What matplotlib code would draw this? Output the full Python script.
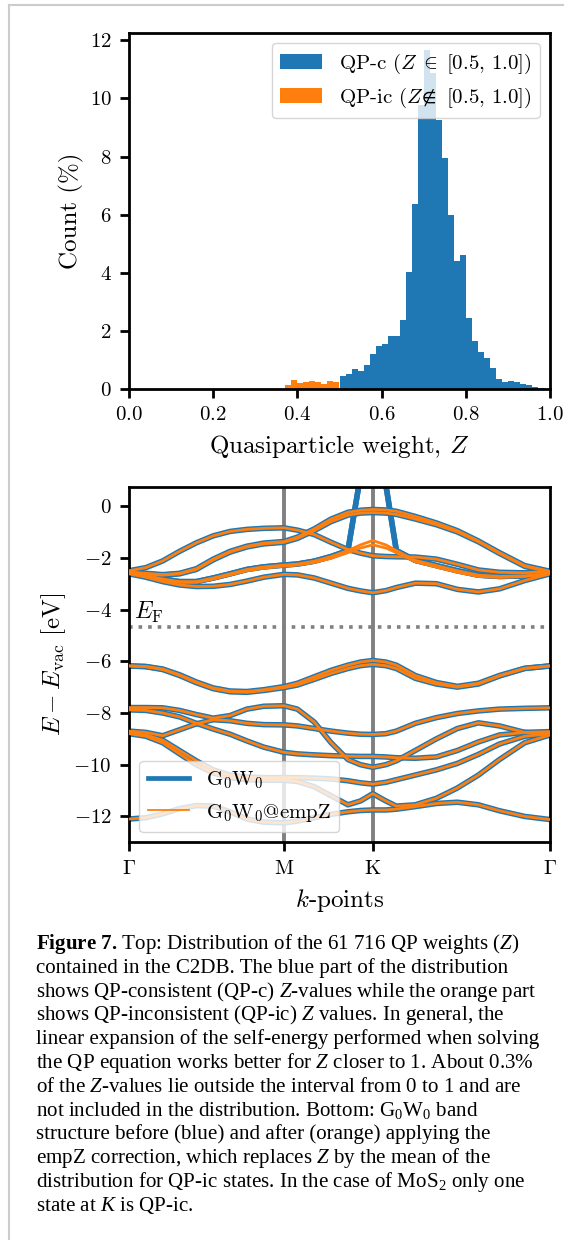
import numpy as np
import matplotlib
matplotlib.use("Agg")
import matplotlib.pyplot as plt
from matplotlib.lines import Line2D

plt.rcParams['font.family'] = ['cmr10', 'DejaVu Serif']
plt.rcParams['mathtext.fontset'] = 'cm'
plt.rcParams['axes.formatter.use_mathtext'] = True
# fonts for the caption (custom math font family)
plt.rcParams['mathtext.rm'] = 'Liberation Serif'
plt.rcParams['mathtext.it'] = 'Liberation Serif:italic'
plt.rcParams['mathtext.bf'] = 'Liberation Serif:bold'
plt.rcParams['axes.linewidth'] = 2.0

# ---------------- histogram data (percent per bin, bins of width 1/70) ----------------
n_bins = 70
first_ic_bin = 26
count_ic = [0.13, 0.31, 0.22, 0.25, 0.27, 0.24, 0.16, 0.27, 0.24]
count_c = [0.45, 0.51, 0.69, 0.62, 0.82, 1.22, 1.47, 1.54, 1.82, 1.83,
           2.37, 4.01, 6.38, 9.77, 11.68, 10.88, 9.25, 7.96, 5.98, 4.42,
           4.6, 2.43, 1.65, 1.27, 1.07, 0.73, 0.34, 0.25, 0.27, 0.24,
           0.17, 0.13, 0.08, 0.03]

# ---------------- band structure data ----------------
kx = [0.0, 0.04, 0.08, 0.12, 0.16, 0.20, 0.24, 0.28, 0.32, 0.368, 0.40, 0.44, 0.48,
      0.52, 0.55, 0.579, 0.61, 0.635, 0.68, 0.73, 0.78, 0.83, 0.88, 0.94, 1.0]
k_ticks = [0.0, 0.368, 0.579, 1.0]
k_labels = [r'$\Gamma$', 'M', 'K', r'$\Gamma$']
e_fermi = -4.66

cb_low = [-2.62, -2.75, -2.92, -3.05, -3.11, -3.1, -3.03, -2.9, -2.75, -2.64, -2.66, -2.78, -2.98,
          -3.18, -3.28, -3.35, -3.27, -3.15, -2.98, -3.0, -3.22, -3.32, -3.2, -2.88, -2.62]
cb_arc = [-2.5, -2.38, -2.12, -1.75, -1.42, -1.15, -0.98, -0.9, -0.86, -0.84, -0.93, -1.1, -1.4,
          -1.68, -1.82, -1.92, -1.95, -1.96, -1.97, -2.05, -2.25, -2.47, -2.56, -2.58, -2.52]
cb_top1 = [-2.55, -2.6, -2.65, -2.6, -2.42, -2.05, -1.75, -1.55, -1.43, -1.37, -1.2, -0.88, -0.5,
           -0.24, -0.16, -0.13, -0.15, -0.2, -0.4, -0.65, -0.95, -1.35, -1.8, -2.3, -2.52]
cb_top2 = [-2.57, -2.62, -2.67, -2.62, -2.45, -2.08, -1.78, -1.58, -1.46, -1.4, -1.25, -0.95, -0.6,
           -0.35, -0.27, -0.25, -0.27, -0.32, -0.5, -0.72, -1.0, -1.38, -1.83, -2.33, -2.55]
cb_k1 = [-2.58, -2.68, -2.82, -2.92, -2.92, -2.78, -2.62, -2.45, -2.35, -2.28, -2.24, -2.13, -1.95,
         -1.72, -1.5, -1.33, -1.5, -1.72, -2.1, -2.3, -2.5, -2.67, -2.72, -2.7, -2.6]
cb_k2 = [-2.6, -2.7, -2.85, -2.95, -2.95, -2.82, -2.66, -2.5, -2.4, -2.32, -2.28, -2.18, -2.02,
         -1.8, -1.62, -1.5, -1.62, -1.8, -2.15, -2.36, -2.56, -2.72, -2.76, -2.72, -2.62]
# QP-ic state at K before the empZ correction
cb_k_g0w0 = [-2.58, -2.68, -2.82, -2.92, -2.92, -2.78, -2.62, -2.45, -2.35, -2.28, -2.24, -2.13, -1.95,
             -1.72, 1.19, 4.0, 0.83, -1.72, -2.1, -2.3, -2.5, -2.67, -2.72, -2.7, -2.6]

vb1a = [-6.18, -6.2, -6.3, -6.52, -6.8, -7.03, -7.15, -7.17, -7.1, -6.98, -6.85, -6.6, -6.35,
        -6.15, -6.03, -5.97, -6.03, -6.15, -6.55, -6.82, -6.97, -6.85, -6.55, -6.27, -6.18]
vb1b = [-6.18, -6.21, -6.32, -6.55, -6.83, -7.06, -7.18, -7.2, -7.13, -7.02, -6.92, -6.7, -6.47,
        -6.28, -6.17, -6.12, -6.17, -6.28, -6.66, -6.88, -7.0, -6.88, -6.57, -6.28, -6.18]
vb2 = [-7.79, -7.79, -7.8, -7.9, -8.06, -8.2, -8.1, -7.85, -7.74, -7.72, -7.85, -8.35, -9.15,
       -9.8, -10.0, -10.1, -10.0, -9.85, -9.45, -9.0, -8.6, -8.38, -8.5, -8.75, -8.85]
vb3 = [-8.7, -8.75, -8.88, -8.65, -8.42, -8.26, -8.3, -8.4, -8.45, -8.46, -8.5, -8.6, -8.7,
       -8.78, -8.82, -8.83, -8.8, -8.7, -8.4, -8.18, -8.02, -7.92, -7.85, -7.82, -7.8]
vb4 = [-7.88, -7.9, -8.0, -8.15, -8.4, -8.62, -8.82, -9.08, -9.32, -9.52, -9.58, -9.62, -9.65,
       -9.67, -9.68, -9.68, -9.7, -9.73, -9.75, -9.7, -9.45, -9.12, -8.85, -8.75, -8.72]
vb5a = [-8.78, -8.85, -9.05, -9.45, -9.85, -10.2, -10.4, -10.48, -10.5, -10.5, -10.5, -10.52, -10.55,
        -10.62, -10.7, -10.75, -10.68, -10.58, -10.4, -10.2, -9.95, -9.6, -9.2, -8.9, -8.8]
vb5b = [-8.8, -8.9, -9.15, -9.58, -10.0, -10.32, -10.5, -10.58, -10.6, -10.6, -10.65, -10.85, -11.2,
        -11.55, -11.4, -11.12, -11.4, -11.6, -11.55, -11.3, -10.9, -10.4, -9.8, -9.15, -8.85]
vb6 = [-12.1, -12.05, -11.9, -11.7, -11.58, -11.6, -11.82, -12.1, -12.22, -12.25, -12.18, -12.05, -11.92,
       -11.82, -11.77, -11.75, -11.75, -11.72, -11.62, -11.5, -11.45, -11.55, -11.78, -12.0, -12.12]

bands_empz = [cb_low, cb_arc, cb_top1, cb_top2, cb_k1, cb_k2,
              vb1a, vb1b, vb2, vb3, vb4, vb5a, vb5b, vb6]
bands_g0w0 = [cb_low, cb_arc, cb_top1, cb_top2, cb_k_g0w0, cb_k_g0w0,
              vb1a, vb1b, vb2, vb3, vb4, vb5a, vb5b, vb6]

caption = [
    r"$\mathbf{Figure\ 7.}\,$Top: Distribution of the 61 716 QP weights ($Z$)",
    "contained in the C2DB. The blue part of the distribution",
    r"shows QP-consistent (QP-c) $Z$-values while the orange part",
    r"shows QP-inconsistent (QP-ic) $Z$ values. In general, the",
    "linear expansion of the self-energy performed when solving",
    r"the QP equation works better for $Z$ closer to 1. About 0.3%",
    r"of the $Z$-values lie outside the interval from 0 to 1 and are",
    r"not included in the distribution. Bottom: G$_0$W$_0$ band",
    "structure before (blue) and after (orange) applying the",
    r"empZ correction, which replaces $Z$ by the mean of the",
    r"distribution for QP-ic states. In the case of MoS$_2$ only one",
    r"state at $K$ is QP-ic.",
]

W, H = 564, 1240
fig = plt.figure(figsize=(W / 100, H / 100), dpi=100)

# ---------------- top: histogram ----------------
ax1 = fig.add_axes([129 / W, 1 - 389 / H, 421 / W, 356.3 / H])
edges = np.linspace(0, 1, n_bins + 1)
e_ic = edges[first_ic_bin:first_ic_bin + len(count_ic) + 1]
e_c = edges[first_ic_bin + len(count_ic):first_ic_bin + len(count_ic) + len(count_c) + 1]
ax1.hist(e_c[:-1], bins=e_c, weights=count_c, color='C0',
         label=r'QP-c ($Z\;\in\;$[0.5, 1.0])')
ax1.hist(e_ic[:-1], bins=e_ic, weights=count_ic, color='C1',
         label=r'QP-ic ($Z\!\notin$ [0.5, 1.0])')
ax1.set_xlim(0, 1)
ax1.set_xticks([0, 0.2, 0.4, 0.6, 0.8, 1.0])
ax1.set_yticks([0, 2, 4, 6, 8, 10, 12])
ax1.set_xlabel(r'Quasiparticle weight, $Z$', fontsize=18, labelpad=6)
ax1.set_ylabel('Count (%)', fontsize=18)
ax1.legend(loc='upper right', fontsize=15)

# ---------------- bottom: band structure ----------------
ax2 = fig.add_axes([129 / W, 1 - 842.3 / H, 421 / W, 355.6 / H])
for kv in k_ticks[1:-1]:
    ax2.axvline(kv, color='gray', lw=2.8, zorder=1)
ax2.axhline(e_fermi, color='gray', ls=':', lw=2.6, zorder=1)
ax2.text(0.012, e_fermi + 0.05, r'$E_\mathrm{F}$', fontsize=17, va='bottom')
for e in bands_g0w0:
    ax2.plot(kx, e, color='C0', lw=4.0, solid_joinstyle='round', zorder=2)
for e in bands_empz:
    ax2.plot(kx, e, color='C1', lw=2.0, solid_joinstyle='round', zorder=3)
ax2.set_xlim(0, 1)
ax2.set_ylim(-13, 0.75)
ax2.set_xticks(k_ticks)
ax2.set_xticklabels(k_labels)
ax2.set_yticks([0, -2, -4, -6, -8, -10, -12])
ax2.set_xlabel(r'$k$-points', fontsize=18, labelpad=7)
ax2.set_ylabel(r'$E - E_\mathrm{vac}$ [eV]', fontsize=18)
handles = [Line2D([], [], color='C0', lw=3.4), Line2D([], [], color='C1', lw=1.3)]
ax2.legend(handles, [r'G$_0$W$_0$', r'G$_0$W$_0$@empZ'], loc='lower left', fontsize=15)

for ax in (ax1, ax2):
    ax.tick_params(labelsize=15, length=6.5, width=2, pad=6)

# page frame
fig.add_artist(Line2D([9 / W, 9 / W], [0, 1 - 5 / H], transform=fig.transFigure,
                      color='#cccccc', lw=1.5))
fig.add_artist(Line2D([9 / W, 1], [1 - 5 / H, 1 - 5 / H], transform=fig.transFigure,
                      color='#cccccc', lw=1.5))

# caption
for i, line in enumerate(caption):
    fig.text(36 / W, 1 - (949 + 23.8 * i) / H, line, family='Liberation Serif',
             fontsize=15.1, va='baseline', math_fontfamily='custom')

fig.savefig('out.png', dpi=100)
